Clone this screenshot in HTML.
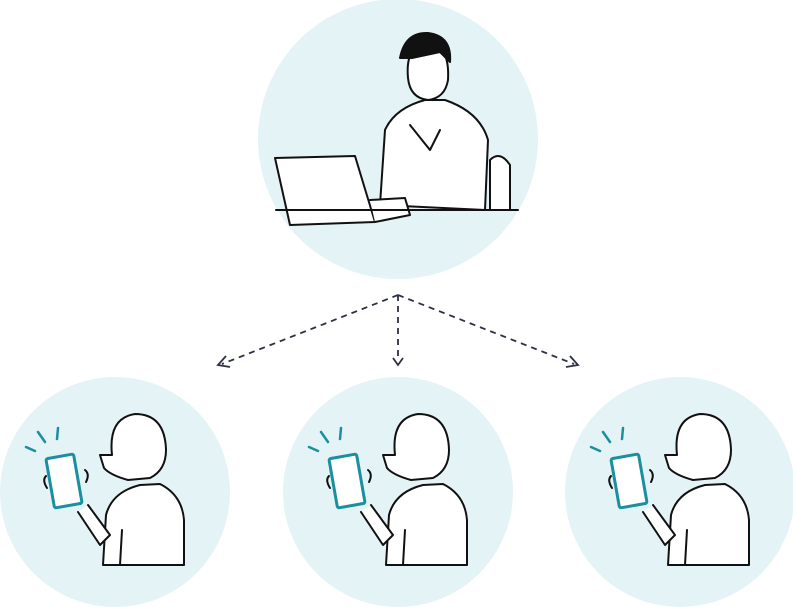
<!DOCTYPE html>
<html><head><meta charset="utf-8"><style>html,body{margin:0;padding:0;background:#fff}svg{display:block}</style></head>
<body>
<svg width="793" height="607" viewBox="0 0 793 607" xmlns="http://www.w3.org/2000/svg">
<defs>
<g id="p" stroke="#111" stroke-width="2" stroke-linejoin="round" stroke-linecap="round">
  <path d="M103,565 L106,515 Q112,492 140,485 L160,484 Q182,495 184,520 L184,565 Z" fill="#fff"/>
  <path d="M120,565 L122,530" fill="none"/>
  <path d="M78,512 L100,545 L110,535 L88,505" fill="#fff"/>
  <path d="M112,455 Q108,418 135,414 Q165,414 166,450 Q166,470 150,478 L128,480 Q110,475 104,468 L100,455 Z" fill="#fff"/>
  <rect x="50" y="456" width="28" height="50" rx="2" fill="#fff" stroke="#1a8fa0" stroke-width="3" transform="rotate(-10 64 481)"/>
  <path d="M46,476 Q42,480 47,488 M85,470 Q90,474 86,482" fill="none"/>
  <g stroke="#1a8fa0" stroke-width="2.5" fill="none">
    <path d="M26,447 L35,451 M38,432 L45,442 M58,428 L57,439"/>
  </g>
</g>
</defs>
<circle cx="398" cy="139" r="140" fill="#e4f3f6"/>
<circle cx="115" cy="492" r="115" fill="#e4f3f6"/>
<circle cx="398" cy="492" r="115" fill="#e4f3f6"/>
<circle cx="680" cy="492" r="115" fill="#e4f3f6"/>

<!-- top man -->
<g stroke="#111" stroke-width="2" stroke-linejoin="round" stroke-linecap="round">
  <path d="M490,210 L490,160 Q500,150 510,165 L510,210" fill="#fff"/>
  <path d="M380,205 L385,130 Q395,108 425,100 L445,100 Q480,112 488,140 L485,210 Z" fill="#fff"/>
  <path d="M408,78 Q405,45 428,42 Q450,45 448,80 Q445,98 428,100 Q410,98 408,78 Z" fill="#fff"/>
  <path d="M400,58 Q405,32 428,33 Q452,36 450,62 L440,52 L412,58 Z" fill="#111"/>
  <path d="M275,158 L355,156 L375,222 L290,225 Z" fill="#fff"/>
  <path d="M370,200 L405,198 L410,215 L375,222" fill="#fff"/>
  <path d="M276,210 L518,210" fill="none"/>
  <path d="M410,125 L430,150 L440,130" fill="none"/>
</g>

<!-- arrows -->
<g stroke="#2d3142" stroke-width="1.8" fill="none" stroke-dasharray="6,5">
  <path d="M398,295 L222,364"/><path d="M398,295 L398,360"/><path d="M398,295 L574,364"/>
</g>
<g stroke="#2d3142" stroke-width="1.8" fill="none">
  <path d="M226,356 L218,365 L230,367"/><path d="M393,358 L398,365 L403,358"/><path d="M566,367 L578,365 L570,356"/>
</g>

<use href="#p"/>
<use href="#p" transform="translate(283,0)"/>
<use href="#p" transform="translate(565,0)"/>
</svg>
</body></html>
